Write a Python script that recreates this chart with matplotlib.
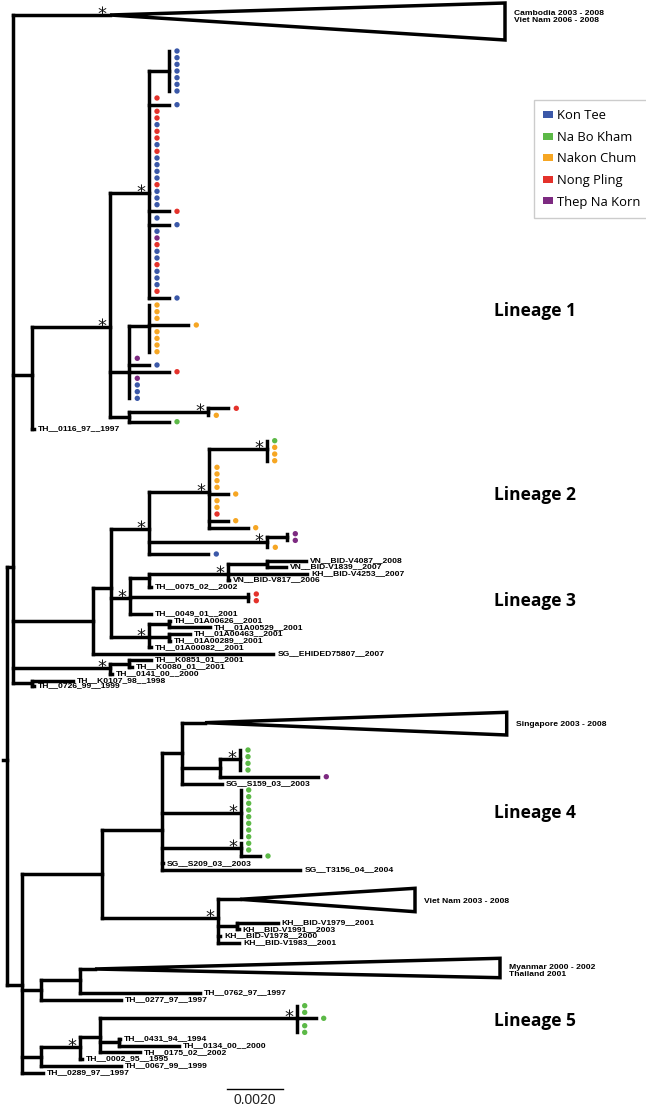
import matplotlib
matplotlib.use("Agg")
import matplotlib.pyplot as plt
from matplotlib.patches import Polygon, Patch
from collections import defaultdict

# sampling sites (tip dot colours)
sites = ["Kon Tee", "Na Bo Kham", "Nakon Chum", "Nong Pling", "Thep Na Korn"]
site_codes = ["B", "G", "O", "R", "P"]
site_colors = ["#3b58a8", "#5cb947", "#f6a623", "#e4322b", "#7d2a81"]

# internal nodes: name, parent, depth, y, supported (*)
nodes = [
    ("root", None, 7.3, 760, False),
    ("R1", "root", 13.3, 567.3, False),
    ("R2", "root", 21.7, 985, False),
    ("L1", "R1", 32, 375, False),
    ("N110", "L1", 110, 326.7, True),
    ("KT", "N110", 149, 193, True),
    ("KT1", "KT", 169, 71, False),
    ("A", "N110", 129.3, 371.7, False),
    ("B", "A", 149, 326, False),
    ("C", "N110", 129.3, 416.7, False),
    ("D", "C", 208.3, 411.7, True),
    ("N92", "R1", 92.7, 621, False),
    ("N110b", "N92", 110.7, 588.3, False),
    ("L2", "N110b", 149.3, 529.3, True),
    ("E", "L2", 209, 492.3, True),
    ("E1", "E", 266.7, 449, True),
    ("F", "L2", 267.3, 542.3, True),
    ("G", "F", 287.3, 537, False),
    ("N130", "N110b", 130, 598.3, True),
    ("M149", "N130", 149, 578.3, False),
    ("VN", "M149", 227.7, 573.5, True),
    ("V", "VN", 266.7, 563.5, False),
    ("Rd", "N130", 248.3, 597.3, False),
    ("X149", "N110b", 149, 636.7, True),
    ("N1", "X149", 169, 624, False),
    ("N2", "X149", 169, 637.3, False),
    ("K", "R1", 110, 668.3, True),
    ("K2", "K", 129.3, 663.5, False),
    ("P", "R1", 32.3, 683.3, False),
    ("Q", "R2", 101.7, 874, False),
    ("L4", "Q", 162.3, 830, False),
    ("S", "L4", 181.7, 753.3, False),
    ("n220", "S", 220, 768.3, False),
    ("A3", "n220", 240, 759.3, True),
    ("A4", "L4", 240.7, 813.3, True),
    ("B4", "L4", 240.7, 848.3, True),
    ("VV", "Q", 218.3, 917.7, True),
    ("KH1", "VV", 237.3, 926, False),
    ("L5a", "R2", 40.7, 990, False),
    ("n80a", "L5a", 80, 980, False),
    ("L5b", "R2", 40.7, 1056.7, False),
    ("n80b", "L5b", 80, 1047.3, True),
    ("n100", "n80b", 100, 1037.3, False),
    ("L5n", "n100", 296.7, 1018.3, True),
    ("n119", "n100", 119, 1042.3, False),
]
root_stub = 3.3

# labelled tips: label, parent, depth, y
tips = [
    ("TH__0116_97__1997", "L1", 34, 429),
    ("VN__BID-V4087__2008", "V", 305.7, 560.5),
    ("VN__BID-V1839__2007", "V", 286, 566.7),
    ("KH__BID-V4253__2007", "VN", 307, 573.5),
    ("VN__BID-V817__2006", "VN", 229, 580),
    ("TH__0075_02__2002", "M149", 151, 587),
    ("TH__0049_01__2001", "N130", 151, 613.5),
    ("TH__01A00626__2001", "N1", 170, 621),
    ("TH__01A00529__2001", "N1", 209.5, 627.3),
    ("TH__01A00463__2001", "N2", 190.3, 634),
    ("TH__01A00289__2001", "N2", 170.3, 640.7),
    ("TH__01A00082__2001", "X149", 151, 647.3),
    ("SG__EHIDED75807__2007", "N92", 273.3, 654),
    ("TH__K0851_01__2001", "K2", 151, 660),
    ("TH__K0080_01__2001", "K2", 131.7, 667),
    ("TH__0141_00__2000", "K", 112, 674),
    ("TH__K0107_98__1998", "P", 72.7, 680.5),
    ("TH__0726_99__1999", "P", 33.7, 686),
    ("SG__S159_03__2003", "S", 222, 783.5),
    ("SG__S209_03__2003", "L4", 162.7, 863.3),
    ("SG__T3156_04__2004", "L4", 300.3, 870),
    ("KH__BID-V1979__2001", "KH1", 277.7, 922.7),
    ("KH__BID-V1991__2003", "KH1", 238.7, 929.3),
    ("KH__BID-V1978__2000", "VV", 220, 936),
    ("KH__BID-V1983__2001", "VV", 239.3, 942.7),
    ("TH__0762_97__1997", "n80a", 200.3, 992.5),
    ("TH__0277_97__1997", "L5a", 121, 1000),
    ("TH__0431_94__1994", "n119", 120.3, 1039),
    ("TH__0134_00__2000", "n119", 178.7, 1045.7),
    ("TH__0175_02__2002", "n100", 140, 1052.3),
    ("TH__0002_95__1995", "n80b", 82, 1059),
    ("TH__0067_99__1999", "L5b", 121, 1066),
    ("TH__0289_97__1997", "R2", 42.7, 1072.7),
]

# runs of dotted tips: parent, tip depth (None = zero length), first y, site codes
tip_step = 6.67
dot_runs = [
    ("KT1", None, 51, "BBBBBBB"),
    ("KT", None, 98, "R"),
    ("KT", 169, 104.7, "B"),
    ("KT", None, 111.3, "RRBRRBRBBBBRBBB"),
    ("KT", 169, 211.3, "R"),
    ("KT", None, 218, "B"),
    ("KT", 169, 224.7, "B"),
    ("KT", None, 231.3, "BPRBBRBBBR"),
    ("KT", 169, 298, "B"),
    ("B", None, 305, "OOO"),
    ("B", 188.3, 325, "O"),
    ("B", None, 331.7, "OOOO"),
    ("A", None, 358.3, "P"),
    ("A", 149, 365, "B"),
    ("A", 169, 371.7, "R"),
    ("A", None, 378.3, "PBBB"),
    ("D", 228.3, 408.3, "R"),
    ("D", None, 415.3, "O"),
    ("C", 169, 421.7, "G"),
    ("E1", None, 440.7, "GOOO"),
    ("E", None, 467.3, "OOOO"),
    ("E", 227.7, 494, "O"),
    ("E", None, 500.7, "OOR"),
    ("E", 227.7, 520.7, "O"),
    ("E", 247.7, 527.7, "O"),
    ("G", None, 533.7, "PP"),
    ("F", None, 547.3, "O"),
    ("L2", 208.3, 554, "B"),
    ("Rd", None, 594, "RR"),
    ("A3", None, 750, "GGGG"),
    ("n220", 318.3, 776.7, "P"),
    ("A4", None, 790, "GGGGGGGG"),
    ("B4", None, 843.3, "GG"),
    ("B4", 260, 856, "G"),
    ("L5n", None, 1005.7, "GG"),
    ("L5n", 315.7, 1018.3, "G"),
    ("L5n", None, 1025.7, "GG"),
]

# collapsed clades: label, parent, apex depth, apex y, max depth, top y, bottom y, supported
clades = [
    ("Cambodia 2003 - 2008\nViet Nam 2006 - 2008", "R1", 110, 15, 505, 3, 40, True),
    ("Singapore 2003 - 2008", "S", 205, 722.7, 506.7, 712.3, 735, False),
    ("Viet Nam 2003 - 2008", "VV", 240, 899.3, 415, 888.3, 911.7, False),
    ("Myanmar 2000 - 2002\nThailand 2001", "n80a", 95, 969, 500, 958.3, 977.7, False),
]

lineages = ["Lineage 1", "Lineage 2", "Lineage 3", "Lineage 4", "Lineage 5"]
lineage_y = [316, 500, 606, 818, 1026.5]

scale_len = 0.0020
px_per_unit = 56.6 / 0.0020

fig = plt.figure(figsize=(6.46, 11.11), dpi=100)
ax = fig.add_axes([0, 0, 1, 1])
ax.set_xlim(0, 646)
ax.set_ylim(1111, 0)
ax.axis("off")

line = dict(color="black", lw=2.5, solid_capstyle="projecting", zorder=2)
tipfont = dict(family="Liberation Sans", weight="bold", fontsize=6.1, va="center", ha="left")

pos = {n[0]: (n[2], n[3]) for n in nodes}
kids = defaultdict(list)
stars = []


def branch(parent, x, y):
    px = pos[parent][0]
    if x > px:
        ax.plot([px, x], [y, y], **line)
    kids[parent].append(y)


for name, parent, x, y, sup in nodes:
    if parent is not None:
        branch(parent, x, y)
    else:
        ax.plot([root_stub, x], [y, y], **line)
    if sup:
        stars.append((x, y))

for label, parent, x, y in tips:
    branch(parent, x, y)
    ax.text(x + 4, y, label, **tipfont)

code_color = dict(zip(site_codes, site_colors))
dx, dy, dc = [], [], []
for parent, x, y0, codes in dot_runs:
    for i, code in enumerate(codes):
        y = y0 + i * tip_step
        tx = pos[parent][0] if x is None else x
        branch(parent, tx, y)
        dx.append(tx + 8)
        dy.append(y)
        dc.append(code_color[code])
ax.scatter(dx, dy, s=15, c=dc, linewidths=0, zorder=3)

for label, parent, ax_x, ay, mx, top, bot, sup in clades:
    branch(parent, ax_x, ay)
    ax.add_patch(Polygon([(ax_x, ay), (mx, top), (mx, bot)], closed=True,
                         fill=False, edgecolor="black", lw=2.5, joinstyle="miter", zorder=2))
    ax.text(mx + 9, ay + 2, label, family="Liberation Sans", weight="bold",
            fontsize=6.1, va="center", ha="left", linespacing=1.15)
    if sup:
        stars.append((ax_x, ay))

# support asterisks, just left of and above each node
ax.scatter([s[0] - 8 for s in stars], [s[1] - 5 for s in stars], marker="$*$",
           s=34, c="#111111", linewidths=0, zorder=3)

# vertical connectors
for name, ys in kids.items():
    x, y = pos[name]
    lo, hi = min(ys + [y]), max(ys + [y])
    if hi > lo:
        ax.plot([x, x], [lo, hi], **line)

for lab, y in zip(lineages, lineage_y):
    ax.text(494, y, lab, family="Open Sans", weight="bold", fontsize=12.5,
            ha="left", va="baseline")

# scale bar
x0 = 226.7
ax.plot([x0, x0 + scale_len * px_per_unit], [1088.7, 1088.7], color="black", lw=1)
ax.text(x0 + scale_len * px_per_unit / 2, 1093, "%.4f" % scale_len, family="Liberation Sans",
        fontsize=10, ha="center", va="top", color="#222222")

handles = [Patch(facecolor=c, edgecolor="none") for c in site_colors]
ax.legend(handles, sites, loc="upper left", bbox_to_anchor=(534, 100),
          bbox_transform=ax.transData, prop=dict(family="Open Sans", size=9.4),
          frameon=True, fancybox=False, edgecolor="#cccccc", framealpha=1,
          handlelength=0.75, handleheight=0.45, handletextpad=0.3,
          labelspacing=0.66, borderpad=0.7, borderaxespad=0)

fig.savefig("out.png", dpi=100)
plt.close(fig)
